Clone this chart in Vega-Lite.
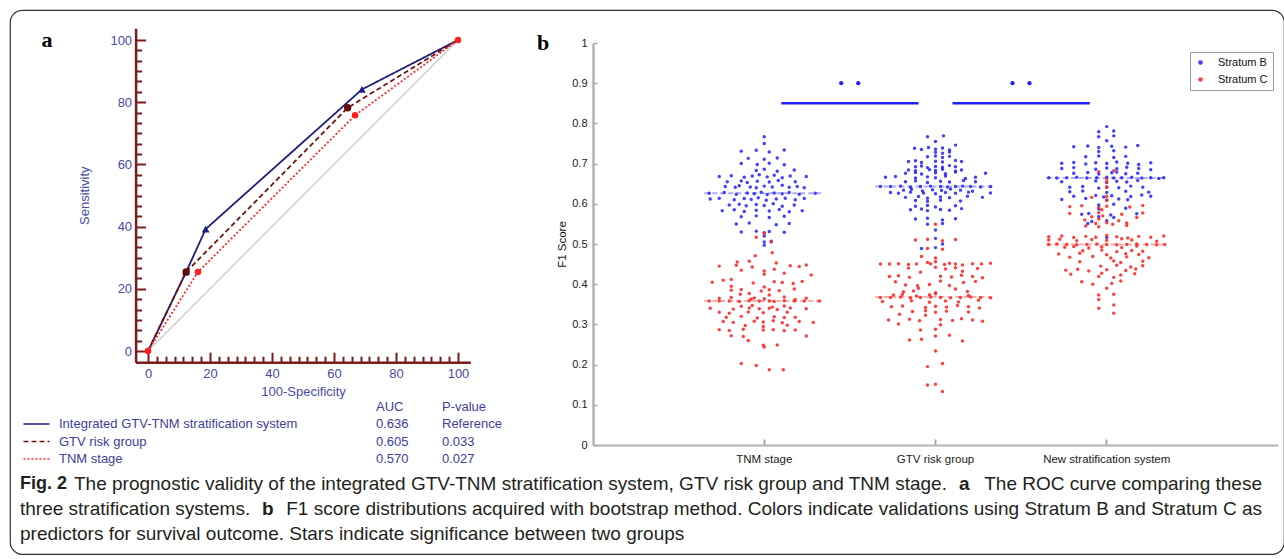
{
"$schema":"https://vega.github.io/schema/vega-lite/v6.json",
"width":1274,"height":544,
"autosize":{"type":"none"},
"padding":{"left":10,"top":10,"right":0,"bottom":5},
"background":"white",
"config":{"view":{"stroke":"#333333","strokeWidth":1.2,"cornerRadius":12},"axis":{"grid":false,"labelFont":"Liberation Sans","titleFont":"Liberation Sans"},"legend":{"labelFont":"Liberation Sans","titleFont":"Liberation Sans"},"text":{"font":"Liberation Sans"}},
"datasets":{
"roc":[
{"series":"Integrated GTV-TNM stratification system","fpr":0,"tpr":0},{"series":"Integrated GTV-TNM stratification system","fpr":12.3,"tpr":25.4},{"series":"Integrated GTV-TNM stratification system","fpr":18.6,"tpr":39.2},{"series":"Integrated GTV-TNM stratification system","fpr":69,"tpr":84.1},{"series":"Integrated GTV-TNM stratification system","fpr":100,"tpr":100},
{"series":"GTV risk group","fpr":0,"tpr":0},{"series":"GTV risk group","fpr":12.3,"tpr":25.4},{"series":"GTV risk group","fpr":64.4,"tpr":78.2},{"series":"GTV risk group","fpr":100,"tpr":100},
{"series":"TNM stage","fpr":0,"tpr":0},{"series":"TNM stage","fpr":16.1,"tpr":25.4},{"series":"TNM stage","fpr":66.8,"tpr":75.8},{"series":"TNM stage","fpr":100,"tpr":100}],
"diag":[{"fpr":0,"tpr":0},{"fpr":100,"tpr":100}],
"auc":[{"series":"Integrated GTV-TNM stratification system","auc":"0.636","p":"Reference"},{"series":"GTV risk group","auc":"0.605","p":"0.033"},{"series":"TNM stage","auc":"0.570","p":"0.027"}],
"notes":[{"part":"pa","text":"a"},{"part":"pb","text":"b"},{"part":"fig","text":"Fig. 2"},{"part":"p1","text":"The prognostic validity of the integrated GTV-TNM stratification system, GTV risk group and TNM stage."},{"part":"ca","text":"a"},{"part":"p2","text":"The ROC curve comparing these"},{"part":"p3","text":"three stratification systems."},{"part":"cb","text":"b"},{"part":"p4","text":"F1 score distributions acquired with bootstrap method. Colors indicate validations using Stratum B and Stratum C as"},{"part":"p5","text":"predictors for survival outcome. Stars indicate significance between two groups"}],
"med":[{"g":"TNM","s":"Stratum B","m":0.626},{"g":"TNM","s":"Stratum C","m":0.358},{"g":"GTV","s":"Stratum B","m":0.643},{"g":"GTV","s":"Stratum C","m":0.368},{"g":"New","s":"Stratum B","m":0.664},{"g":"New","s":"Stratum C","m":0.499}],
"sig":[{"from":"TNM","to":"GTV"},{"from":"GTV","to":"New"}],
"f1B":[{"g":"TNM","v":0.767,"j":0},{"g":"TNM","v":0.750,"j":0},
{"g":"TNM","v":0.731,"j":-23},{"g":"TNM","v":0.733,"j":-8},{"g":"TNM","v":0.729,"j":5},{"g":"TNM","v":0.734,"j":20},
{"g":"TNM","v":0.713,"j":-16},{"g":"TNM","v":0.711,"j":0},{"g":"TNM","v":0.714,"j":13},
{"g":"TNM","v":0.700,"j":-23},{"g":"TNM","v":0.698,"j":-7},{"g":"TNM","v":0.701,"j":5},{"g":"TNM","v":0.697,"j":20},
{"g":"TNM","v":0.683,"j":-8},{"g":"TNM","v":0.686,"j":0},{"g":"TNM","v":0.681,"j":13},{"g":"TNM","v":0.684,"j":30},
{"g":"TNM","v":0.668,"j":-45},{"g":"TNM","v":0.670,"j":-33},{"g":"TNM","v":0.666,"j":-20},{"g":"TNM","v":0.669,"j":-12},{"g":"TNM","v":0.672,"j":-5},{"g":"TNM","v":0.667,"j":3},{"g":"TNM","v":0.671,"j":10},{"g":"TNM","v":0.665,"j":18},{"g":"TNM","v":0.669,"j":26},{"g":"TNM","v":0.668,"j":42},
{"g":"TNM","v":0.655,"j":-37},{"g":"TNM","v":0.657,"j":-23},{"g":"TNM","v":0.653,"j":-17},{"g":"TNM","v":0.656,"j":-7},{"g":"TNM","v":0.654,"j":5},{"g":"TNM","v":0.658,"j":14},{"g":"TNM","v":0.655,"j":31},
{"g":"TNM","v":0.643,"j":-39},{"g":"TNM","v":0.641,"j":-29},{"g":"TNM","v":0.645,"j":-25},{"g":"TNM","v":0.642,"j":-14},{"g":"TNM","v":0.640,"j":-8},{"g":"TNM","v":0.644,"j":0},{"g":"TNM","v":0.642,"j":8},{"g":"TNM","v":0.646,"j":18},{"g":"TNM","v":0.641,"j":25},{"g":"TNM","v":0.643,"j":33},{"g":"TNM","v":0.640,"j":40},
{"g":"TNM","v":0.626,"j":-55},{"g":"TNM","v":0.628,"j":-40},{"g":"TNM","v":0.624,"j":-28},{"g":"TNM","v":0.627,"j":-17},{"g":"TNM","v":0.625,"j":-10},{"g":"TNM","v":0.629,"j":-3},{"g":"TNM","v":0.623,"j":3},{"g":"TNM","v":0.627,"j":10},{"g":"TNM","v":0.625,"j":18},{"g":"TNM","v":0.628,"j":25},{"g":"TNM","v":0.624,"j":35},{"g":"TNM","v":0.626,"j":51},
{"g":"TNM","v":0.612,"j":-54},{"g":"TNM","v":0.614,"j":-45},{"g":"TNM","v":0.610,"j":-30},{"g":"TNM","v":0.613,"j":-20},{"g":"TNM","v":0.611,"j":-13},{"g":"TNM","v":0.615,"j":-6},{"g":"TNM","v":0.609,"j":2},{"g":"TNM","v":0.612,"j":12},{"g":"TNM","v":0.614,"j":21},{"g":"TNM","v":0.610,"j":31},{"g":"TNM","v":0.613,"j":40},
{"g":"TNM","v":0.597,"j":-35},{"g":"TNM","v":0.599,"j":-25},{"g":"TNM","v":0.595,"j":-18},{"g":"TNM","v":0.598,"j":-8},{"g":"TNM","v":0.596,"j":0},{"g":"TNM","v":0.600,"j":9},{"g":"TNM","v":0.594,"j":18},{"g":"TNM","v":0.597,"j":30},
{"g":"TNM","v":0.583,"j":-42},{"g":"TNM","v":0.585,"j":-30},{"g":"TNM","v":0.581,"j":-20},{"g":"TNM","v":0.584,"j":-8},{"g":"TNM","v":0.582,"j":5},{"g":"TNM","v":0.586,"j":15},{"g":"TNM","v":0.580,"j":25},{"g":"TNM","v":0.583,"j":38},
{"g":"TNM","v":0.568,"j":-23},{"g":"TNM","v":0.570,"j":-8},{"g":"TNM","v":0.566,"j":5},{"g":"TNM","v":0.569,"j":20},
{"g":"TNM","v":0.550,"j":-28},{"g":"TNM","v":0.552,"j":-15},{"g":"TNM","v":0.548,"j":12},{"g":"TNM","v":0.551,"j":25},
{"g":"TNM","v":0.530,"j":-23},{"g":"TNM","v":0.532,"j":-8},{"g":"TNM","v":0.528,"j":0},{"g":"TNM","v":0.531,"j":5},{"g":"TNM","v":0.529,"j":20},
{"g":"TNM","v":0.520,"j":0},{"g":"TNM","v":0.505,"j":0},{"g":"TNM","v":0.507,"j":7},{"g":"TNM","v":0.497,"j":0},
{"g":"GTV","v":0.767,"j":-8},{"g":"GTV","v":0.769,"j":8},{"g":"GTV","v":0.755,"j":0},{"g":"GTV","v":0.746,"j":20},
{"g":"GTV","v":0.738,"j":-21},{"g":"GTV","v":0.735,"j":-14},{"g":"GTV","v":0.740,"j":-7},{"g":"GTV","v":0.736,"j":0},{"g":"GTV","v":0.739,"j":7},{"g":"GTV","v":0.734,"j":14},
{"g":"GTV","v":0.728,"j":0},{"g":"GTV","v":0.726,"j":7},{"g":"GTV","v":0.729,"j":14},
{"g":"GTV","v":0.717,"j":-8},{"g":"GTV","v":0.719,"j":0},{"g":"GTV","v":0.715,"j":7},{"g":"GTV","v":0.718,"j":14},
{"g":"GTV","v":0.705,"j":-27},{"g":"GTV","v":0.707,"j":-20},{"g":"GTV","v":0.703,"j":-14},{"g":"GTV","v":0.706,"j":0},{"g":"GTV","v":0.704,"j":7},{"g":"GTV","v":0.708,"j":20},{"g":"GTV","v":0.705,"j":26},
{"g":"GTV","v":0.692,"j":-20},{"g":"GTV","v":0.694,"j":-14},{"g":"GTV","v":0.690,"j":-8},{"g":"GTV","v":0.693,"j":0},{"g":"GTV","v":0.691,"j":7},{"g":"GTV","v":0.695,"j":14},{"g":"GTV","v":0.692,"j":20},
{"g":"GTV","v":0.684,"j":-27},{"g":"GTV","v":0.682,"j":-20},{"g":"GTV","v":0.685,"j":-6},{"g":"GTV","v":0.683,"j":0},{"g":"GTV","v":0.686,"j":7},{"g":"GTV","v":0.681,"j":20},{"g":"GTV","v":0.684,"j":26},
{"g":"GTV","v":0.676,"j":-30},{"g":"GTV","v":0.678,"j":-20},{"g":"GTV","v":0.674,"j":-14},{"g":"GTV","v":0.677,"j":0},{"g":"GTV","v":0.675,"j":10},{"g":"GTV","v":0.679,"j":20},{"g":"GTV","v":0.676,"j":50},
{"g":"GTV","v":0.666,"j":-50},{"g":"GTV","v":0.668,"j":-40},{"g":"GTV","v":0.664,"j":-20},{"g":"GTV","v":0.667,"j":-8},{"g":"GTV","v":0.665,"j":0},{"g":"GTV","v":0.669,"j":10},{"g":"GTV","v":0.663,"j":30},{"g":"GTV","v":0.666,"j":40},
{"g":"GTV","v":0.655,"j":-30},{"g":"GTV","v":0.657,"j":-20},{"g":"GTV","v":0.653,"j":-8},{"g":"GTV","v":0.656,"j":5},{"g":"GTV","v":0.654,"j":14},{"g":"GTV","v":0.658,"j":28},{"g":"GTV","v":0.655,"j":40},
{"g":"GTV","v":0.643,"j":-55},{"g":"GTV","v":0.643,"j":-45},{"g":"GTV","v":0.644,"j":-35},{"g":"GTV","v":0.642,"j":-25},{"g":"GTV","v":0.643,"j":-15},{"g":"GTV","v":0.644,"j":-5},{"g":"GTV","v":0.643,"j":5},{"g":"GTV","v":0.642,"j":12},{"g":"GTV","v":0.643,"j":20},{"g":"GTV","v":0.644,"j":27},{"g":"GTV","v":0.643,"j":35},{"g":"GTV","v":0.642,"j":45},{"g":"GTV","v":0.643,"j":55},
{"g":"GTV","v":0.634,"j":-32},{"g":"GTV","v":0.636,"j":-24},{"g":"GTV","v":0.632,"j":-13},{"g":"GTV","v":0.635,"j":-3},{"g":"GTV","v":0.633,"j":6},{"g":"GTV","v":0.637,"j":15},{"g":"GTV","v":0.634,"j":25},{"g":"GTV","v":0.631,"j":37},
{"g":"GTV","v":0.628,"j":-45},{"g":"GTV","v":0.626,"j":-37},{"g":"GTV","v":0.629,"j":-25},{"g":"GTV","v":0.627,"j":-12},{"g":"GTV","v":0.625,"j":0},{"g":"GTV","v":0.628,"j":10},{"g":"GTV","v":0.626,"j":20},{"g":"GTV","v":0.629,"j":33},{"g":"GTV","v":0.627,"j":55},
{"g":"GTV","v":0.616,"j":-30},{"g":"GTV","v":0.618,"j":-17},{"g":"GTV","v":0.614,"j":-8},{"g":"GTV","v":0.617,"j":5},{"g":"GTV","v":0.615,"j":14},{"g":"GTV","v":0.619,"j":32},{"g":"GTV","v":0.616,"j":47},
{"g":"GTV","v":0.608,"j":-20},{"g":"GTV","v":0.606,"j":-8},{"g":"GTV","v":0.609,"j":5},{"g":"GTV","v":0.607,"j":25},
{"g":"GTV","v":0.594,"j":-20},{"g":"GTV","v":0.596,"j":-8},{"g":"GTV","v":0.592,"j":0},{"g":"GTV","v":0.595,"j":20},
{"g":"GTV","v":0.585,"j":-25},{"g":"GTV","v":0.587,"j":-14},{"g":"GTV","v":0.583,"j":-8},{"g":"GTV","v":0.586,"j":5},{"g":"GTV","v":0.584,"j":14},{"g":"GTV","v":0.588,"j":26},
{"g":"GTV","v":0.562,"j":-20},{"g":"GTV","v":0.564,"j":-8},{"g":"GTV","v":0.560,"j":7},{"g":"GTV","v":0.563,"j":20},
{"g":"GTV","v":0.549,"j":-8},{"g":"GTV","v":0.551,"j":7},
{"g":"GTV","v":0.535,"j":0},{"g":"GTV","v":0.514,"j":0},{"g":"GTV","v":0.500,"j":7},{"g":"GTV","v":0.489,"j":-14},{"g":"GTV","v":0.491,"j":0},
{"g":"New","v":0.792,"j":0},{"g":"New","v":0.779,"j":-8},{"g":"New","v":0.781,"j":7},{"g":"New","v":0.767,"j":-8},{"g":"New","v":0.769,"j":7},{"g":"New","v":0.757,"j":0},
{"g":"New","v":0.742,"j":-33},{"g":"New","v":0.744,"j":-19},{"g":"New","v":0.740,"j":-8},{"g":"New","v":0.743,"j":5},{"g":"New","v":0.741,"j":19},{"g":"New","v":0.745,"j":31},
{"g":"New","v":0.730,"j":-8},{"g":"New","v":0.732,"j":7},
{"g":"New","v":0.717,"j":-21},{"g":"New","v":0.719,"j":-8},{"g":"New","v":0.715,"j":7},{"g":"New","v":0.718,"j":19},
{"g":"New","v":0.701,"j":-45},{"g":"New","v":0.703,"j":-33},{"g":"New","v":0.699,"j":-21},{"g":"New","v":0.702,"j":-11},{"g":"New","v":0.700,"j":0},{"g":"New","v":0.704,"j":10},{"g":"New","v":0.701,"j":21},{"g":"New","v":0.698,"j":32},{"g":"New","v":0.702,"j":44},
{"g":"New","v":0.688,"j":-45},{"g":"New","v":0.690,"j":-33},{"g":"New","v":0.686,"j":-11},{"g":"New","v":0.689,"j":0},{"g":"New","v":0.687,"j":10},{"g":"New","v":0.691,"j":20},{"g":"New","v":0.688,"j":32},{"g":"New","v":0.685,"j":44},
{"g":"New","v":0.676,"j":-33},{"g":"New","v":0.678,"j":-19},{"g":"New","v":0.674,"j":-8},{"g":"New","v":0.677,"j":5},{"g":"New","v":0.679,"j":10},{"g":"New","v":0.675,"j":19},{"g":"New","v":0.676,"j":31},
{"g":"New","v":0.665,"j":-58},{"g":"New","v":0.664,"j":-50},{"g":"New","v":0.665,"j":-40},{"g":"New","v":0.666,"j":-30},{"g":"New","v":0.664,"j":-20},{"g":"New","v":0.665,"j":-10},{"g":"New","v":0.666,"j":0},{"g":"New","v":0.664,"j":7},{"g":"New","v":0.665,"j":15},{"g":"New","v":0.666,"j":25},{"g":"New","v":0.664,"j":35},{"g":"New","v":0.665,"j":44},{"g":"New","v":0.663,"j":52},{"g":"New","v":0.665,"j":57},
{"g":"New","v":0.655,"j":-45},{"g":"New","v":0.657,"j":-11},{"g":"New","v":0.653,"j":0},{"g":"New","v":0.656,"j":10},{"g":"New","v":0.654,"j":20},{"g":"New","v":0.658,"j":31},
{"g":"New","v":0.641,"j":-37},{"g":"New","v":0.643,"j":-24},{"g":"New","v":0.639,"j":-8},{"g":"New","v":0.642,"j":0},{"g":"New","v":0.640,"j":12},{"g":"New","v":0.644,"j":24},{"g":"New","v":0.641,"j":36},
{"g":"New","v":0.630,"j":-37},{"g":"New","v":0.632,"j":-24},{"g":"New","v":0.628,"j":0},{"g":"New","v":0.631,"j":19},{"g":"New","v":0.629,"j":42},
{"g":"New","v":0.619,"j":-33},{"g":"New","v":0.621,"j":-11},{"g":"New","v":0.617,"j":-3},{"g":"New","v":0.620,"j":5},{"g":"New","v":0.618,"j":24},{"g":"New","v":0.622,"j":35},{"g":"New","v":0.619,"j":44},
{"g":"New","v":0.611,"j":-45},{"g":"New","v":0.613,"j":-21},{"g":"New","v":0.609,"j":0},{"g":"New","v":0.612,"j":12},{"g":"New","v":0.610,"j":21},
{"g":"New","v":0.597,"j":-8},{"g":"New","v":0.599,"j":7},{"g":"New","v":0.587,"j":-8},{"g":"New","v":0.589,"j":19},
{"g":"New","v":0.574,"j":-25},{"g":"New","v":0.576,"j":-18},{"g":"New","v":0.572,"j":4},{"g":"New","v":0.575,"j":30},
{"g":"New","v":0.568,"j":-8},{"g":"New","v":0.566,"j":7},{"g":"New","v":0.556,"j":-15},{"g":"New","v":0.558,"j":0},{"g":"New","v":0.551,"j":-19},{"g":"New","v":0.516,"j":0}],
"f1C":[{"g":"TNM","v":0.527,"j":0},{"g":"TNM","v":0.517,"j":-8},{"g":"TNM","v":0.505,"j":7},{"g":"TNM","v":0.478,"j":8},{"g":"TNM","v":0.471,"j":-9},
{"g":"TNM","v":0.455,"j":-27},{"g":"TNM","v":0.457,"j":-15},{"g":"TNM","v":0.453,"j":12},
{"g":"TNM","v":0.445,"j":-45},{"g":"TNM","v":0.447,"j":-28},{"g":"TNM","v":0.443,"j":-12},{"g":"TNM","v":0.446,"j":26},{"g":"TNM","v":0.444,"j":35},{"g":"TNM","v":0.448,"j":42},
{"g":"TNM","v":0.435,"j":-23},{"g":"TNM","v":0.433,"j":0},{"g":"TNM","v":0.437,"j":10},
{"g":"TNM","v":0.425,"j":0},{"g":"TNM","v":0.427,"j":20},{"g":"TNM","v":0.423,"j":47},
{"g":"TNM","v":0.410,"j":-41},{"g":"TNM","v":0.412,"j":-33},
{"g":"TNM","v":0.405,"j":-52},{"g":"TNM","v":0.403,"j":-11},{"g":"TNM","v":0.406,"j":10},{"g":"TNM","v":0.404,"j":18},{"g":"TNM","v":0.402,"j":29},{"g":"TNM","v":0.407,"j":38},
{"g":"TNM","v":0.395,"j":-33},{"g":"TNM","v":0.393,"j":0},
{"g":"TNM","v":0.385,"j":-33},{"g":"TNM","v":0.387,"j":-23},{"g":"TNM","v":0.383,"j":-3},{"g":"TNM","v":0.386,"j":5},{"g":"TNM","v":0.384,"j":15},{"g":"TNM","v":0.388,"j":30},
{"g":"TNM","v":0.375,"j":-24},{"g":"TNM","v":0.377,"j":-15},{"g":"TNM","v":0.373,"j":5},
{"g":"TNM","v":0.365,"j":-45},{"g":"TNM","v":0.367,"j":-33},{"g":"TNM","v":0.363,"j":-13},{"g":"TNM","v":0.366,"j":-10},{"g":"TNM","v":0.364,"j":0},{"g":"TNM","v":0.368,"j":20},{"g":"TNM","v":0.362,"j":31},{"g":"TNM","v":0.365,"j":42},
{"g":"TNM","v":0.358,"j":-55},{"g":"TNM","v":0.358,"j":-45},{"g":"TNM","v":0.358,"j":-35},{"g":"TNM","v":0.357,"j":-25},{"g":"TNM","v":0.359,"j":-15},{"g":"TNM","v":0.358,"j":-5},{"g":"TNM","v":0.358,"j":5},{"g":"TNM","v":0.357,"j":10},{"g":"TNM","v":0.359,"j":20},{"g":"TNM","v":0.358,"j":30},{"g":"TNM","v":0.358,"j":40},{"g":"TNM","v":0.358,"j":55},
{"g":"TNM","v":0.345,"j":-23},{"g":"TNM","v":0.347,"j":-12},{"g":"TNM","v":0.343,"j":8},{"g":"TNM","v":0.346,"j":20},
{"g":"TNM","v":0.340,"j":-54},{"g":"TNM","v":0.338,"j":-31},{"g":"TNM","v":0.341,"j":-15},{"g":"TNM","v":0.339,"j":-5},{"g":"TNM","v":0.340,"j":5},{"g":"TNM","v":0.337,"j":13},{"g":"TNM","v":0.341,"j":26},{"g":"TNM","v":0.339,"j":42},
{"g":"TNM","v":0.330,"j":-45},{"g":"TNM","v":0.328,"j":-35},{"g":"TNM","v":0.331,"j":-16},{"g":"TNM","v":0.329,"j":-1},{"g":"TNM","v":0.330,"j":23},
{"g":"TNM","v":0.318,"j":-38},{"g":"TNM","v":0.320,"j":-23},{"g":"TNM","v":0.316,"j":-7},{"g":"TNM","v":0.319,"j":10},{"g":"TNM","v":0.317,"j":20},{"g":"TNM","v":0.318,"j":31},
{"g":"TNM","v":0.307,"j":-41},{"g":"TNM","v":0.305,"j":-31},{"g":"TNM","v":0.308,"j":-10},{"g":"TNM","v":0.306,"j":-1},{"g":"TNM","v":0.309,"j":9},{"g":"TNM","v":0.304,"j":18},{"g":"TNM","v":0.307,"j":35},{"g":"TNM","v":0.305,"j":49},
{"g":"TNM","v":0.297,"j":-19},{"g":"TNM","v":0.295,"j":-1},{"g":"TNM","v":0.298,"j":23},
{"g":"TNM","v":0.287,"j":-45},{"g":"TNM","v":0.285,"j":-35},{"g":"TNM","v":0.288,"j":-21},{"g":"TNM","v":0.286,"j":-1},{"g":"TNM","v":0.287,"j":9},{"g":"TNM","v":0.284,"j":20},{"g":"TNM","v":0.286,"j":31},
{"g":"TNM","v":0.272,"j":-33},{"g":"TNM","v":0.270,"j":-21},{"g":"TNM","v":0.271,"j":42},
{"g":"TNM","v":0.260,"j":-16},
{"g":"TNM","v":0.248,"j":-1},{"g":"TNM","v":0.244,"j":0},{"g":"TNM","v":0.249,"j":13},
{"g":"TNM","v":0.203,"j":-23},{"g":"TNM","v":0.198,"j":-8},{"g":"TNM","v":0.187,"j":5},{"g":"TNM","v":0.187,"j":19},
{"g":"GTV","v":0.549,"j":0},
{"g":"GTV","v":0.510,"j":-20},{"g":"GTV","v":0.512,"j":-8},{"g":"GTV","v":0.508,"j":7},{"g":"GTV","v":0.511,"j":20},
{"g":"GTV","v":0.489,"j":-8},{"g":"GTV","v":0.487,"j":7},
{"g":"GTV","v":0.469,"j":-14},{"g":"GTV","v":0.465,"j":0},
{"g":"GTV","v":0.454,"j":-8},{"g":"GTV","v":0.456,"j":0},{"g":"GTV","v":0.452,"j":14},
{"g":"GTV","v":0.450,"j":-55},{"g":"GTV","v":0.450,"j":-46},{"g":"GTV","v":0.451,"j":-37},{"g":"GTV","v":0.449,"j":-27},{"g":"GTV","v":0.450,"j":-19},{"g":"GTV","v":0.451,"j":-5},{"g":"GTV","v":0.449,"j":9},{"g":"GTV","v":0.450,"j":20},{"g":"GTV","v":0.448,"j":27},{"g":"GTV","v":0.451,"j":37},{"g":"GTV","v":0.450,"j":46},{"g":"GTV","v":0.452,"j":55},
{"g":"GTV","v":0.440,"j":-27},{"g":"GTV","v":0.442,"j":0},{"g":"GTV","v":0.438,"j":10},{"g":"GTV","v":0.441,"j":20},{"g":"GTV","v":0.439,"j":42},
{"g":"GTV","v":0.430,"j":-15},{"g":"GTV","v":0.432,"j":27},
{"g":"GTV","v":0.419,"j":-46},{"g":"GTV","v":0.421,"j":-37},{"g":"GTV","v":0.417,"j":-26},{"g":"GTV","v":0.420,"j":5},{"g":"GTV","v":0.418,"j":16},{"g":"GTV","v":0.422,"j":26},{"g":"GTV","v":0.419,"j":37},{"g":"GTV","v":0.416,"j":47},
{"g":"GTV","v":0.406,"j":-40},{"g":"GTV","v":0.408,"j":5},{"g":"GTV","v":0.404,"j":28},{"g":"GTV","v":0.407,"j":40},
{"g":"GTV","v":0.398,"j":-30},{"g":"GTV","v":0.396,"j":-18},{"g":"GTV","v":0.399,"j":-6},{"g":"GTV","v":0.397,"j":14},
{"g":"GTV","v":0.390,"j":-17},{"g":"GTV","v":0.388,"j":20},
{"g":"GTV","v":0.381,"j":-32},{"g":"GTV","v":0.383,"j":-22},{"g":"GTV","v":0.379,"j":0},{"g":"GTV","v":0.382,"j":32},
{"g":"GTV","v":0.373,"j":-42},{"g":"GTV","v":0.375,"j":-33},{"g":"GTV","v":0.371,"j":-19},{"g":"GTV","v":0.374,"j":-6},{"g":"GTV","v":0.376,"j":0},{"g":"GTV","v":0.372,"j":33},
{"g":"GTV","v":0.367,"j":-55},{"g":"GTV","v":0.367,"j":-45},{"g":"GTV","v":0.368,"j":-35},{"g":"GTV","v":0.366,"j":-25},{"g":"GTV","v":0.367,"j":-15},{"g":"GTV","v":0.368,"j":-5},{"g":"GTV","v":0.367,"j":5},{"g":"GTV","v":0.366,"j":15},{"g":"GTV","v":0.367,"j":25},{"g":"GTV","v":0.368,"j":35},{"g":"GTV","v":0.367,"j":45},{"g":"GTV","v":0.366,"j":55},
{"g":"GTV","v":0.357,"j":-53},{"g":"GTV","v":0.359,"j":-24},{"g":"GTV","v":0.355,"j":-6},{"g":"GTV","v":0.358,"j":10},{"g":"GTV","v":0.356,"j":23},{"g":"GTV","v":0.360,"j":43},
{"g":"GTV","v":0.344,"j":-44},{"g":"GTV","v":0.346,"j":-33},{"g":"GTV","v":0.342,"j":-10},{"g":"GTV","v":0.345,"j":0},{"g":"GTV","v":0.343,"j":11},{"g":"GTV","v":0.347,"j":22},{"g":"GTV","v":0.344,"j":33},{"g":"GTV","v":0.341,"j":44},
{"g":"GTV","v":0.332,"j":-23},{"g":"GTV","v":0.334,"j":-10},{"g":"GTV","v":0.330,"j":0},{"g":"GTV","v":0.333,"j":11},{"g":"GTV","v":0.331,"j":33},
{"g":"GTV","v":0.325,"j":-36},{"g":"GTV","v":0.323,"j":-10},
{"g":"GTV","v":0.311,"j":-47},{"g":"GTV","v":0.313,"j":-26},{"g":"GTV","v":0.309,"j":-16},{"g":"GTV","v":0.312,"j":5},{"g":"GTV","v":0.310,"j":17},{"g":"GTV","v":0.314,"j":26},{"g":"GTV","v":0.311,"j":37},{"g":"GTV","v":0.308,"j":47},
{"g":"GTV","v":0.301,"j":-37},{"g":"GTV","v":0.299,"j":5},
{"g":"GTV","v":0.286,"j":-15},{"g":"GTV","v":0.288,"j":0},
{"g":"GTV","v":0.271,"j":0},{"g":"GTV","v":0.273,"j":14},
{"g":"GTV","v":0.261,"j":-26},{"g":"GTV","v":0.263,"j":-14},{"g":"GTV","v":0.259,"j":27},
{"g":"GTV","v":0.234,"j":0},{"g":"GTV","v":0.203,"j":7},{"g":"GTV","v":0.195,"j":-8},{"g":"GTV","v":0.149,"j":-8},{"g":"GTV","v":0.151,"j":0},{"g":"GTV","v":0.133,"j":7},
{"g":"New","v":0.680,"j":-8},{"g":"New","v":0.682,"j":7},{"g":"New","v":0.663,"j":0},{"g":"New","v":0.655,"j":0},{"g":"New","v":0.641,"j":0},
{"g":"New","v":0.616,"j":-15},{"g":"New","v":0.618,"j":0},{"g":"New","v":0.609,"j":0},
{"g":"New","v":0.593,"j":-37},{"g":"New","v":0.595,"j":-25},{"g":"New","v":0.591,"j":-8},{"g":"New","v":0.594,"j":0},{"g":"New","v":0.592,"j":23},{"g":"New","v":0.596,"j":36},
{"g":"New","v":0.585,"j":-5},
{"g":"New","v":0.576,"j":-37},{"g":"New","v":0.578,"j":-8},{"g":"New","v":0.574,"j":15},{"g":"New","v":0.577,"j":36},
{"g":"New","v":0.568,"j":-15},{"g":"New","v":0.570,"j":-4},{"g":"New","v":0.566,"j":30},
{"g":"New","v":0.560,"j":-22},{"g":"New","v":0.562,"j":-8},{"g":"New","v":0.558,"j":12},
{"g":"New","v":0.551,"j":-11},{"g":"New","v":0.553,"j":0},{"g":"New","v":0.549,"j":6},{"g":"New","v":0.552,"j":20},
{"g":"New","v":0.545,"j":-21},{"g":"New","v":0.543,"j":-8},{"g":"New","v":0.546,"j":20},
{"g":"New","v":0.518,"j":-58},{"g":"New","v":0.520,"j":-45},{"g":"New","v":0.516,"j":-33},{"g":"New","v":0.519,"j":-21},{"g":"New","v":0.517,"j":-11},{"g":"New","v":0.521,"j":0},{"g":"New","v":0.518,"j":10},{"g":"New","v":0.515,"j":21},{"g":"New","v":0.519,"j":32},{"g":"New","v":0.517,"j":44},{"g":"New","v":0.520,"j":57},
{"g":"New","v":0.510,"j":-58},{"g":"New","v":0.512,"j":-47},{"g":"New","v":0.508,"j":-30},{"g":"New","v":0.511,"j":-15},{"g":"New","v":0.509,"j":0},{"g":"New","v":0.513,"j":15},{"g":"New","v":0.510,"j":25},{"g":"New","v":0.507,"j":50},
{"g":"New","v":0.499,"j":-58},{"g":"New","v":0.500,"j":-50},{"g":"New","v":0.499,"j":-40},{"g":"New","v":0.498,"j":-30},{"g":"New","v":0.499,"j":-20},{"g":"New","v":0.500,"j":-10},{"g":"New","v":0.499,"j":0},{"g":"New","v":0.498,"j":10},{"g":"New","v":0.499,"j":20},{"g":"New","v":0.500,"j":30},{"g":"New","v":0.499,"j":40},{"g":"New","v":0.498,"j":50},{"g":"New","v":0.499,"j":58},
{"g":"New","v":0.492,"j":-42},{"g":"New","v":0.494,"j":-33},{"g":"New","v":0.490,"j":-18},{"g":"New","v":0.493,"j":-5},{"g":"New","v":0.491,"j":15},{"g":"New","v":0.495,"j":30},
{"g":"New","v":0.483,"j":-24},{"g":"New","v":0.485,"j":-5},{"g":"New","v":0.481,"j":10},{"g":"New","v":0.484,"j":25},{"g":"New","v":0.482,"j":36},
{"g":"New","v":0.475,"j":-48},{"g":"New","v":0.477,"j":-27},{"g":"New","v":0.473,"j":0},{"g":"New","v":0.476,"j":19},{"g":"New","v":0.474,"j":32},
{"g":"New","v":0.467,"j":-37},{"g":"New","v":0.469,"j":-14},{"g":"New","v":0.465,"j":4},{"g":"New","v":0.468,"j":20},{"g":"New","v":0.466,"j":42},
{"g":"New","v":0.456,"j":-27},{"g":"New","v":0.458,"j":7},{"g":"New","v":0.454,"j":14},{"g":"New","v":0.457,"j":36},
{"g":"New","v":0.445,"j":-6},{"g":"New","v":0.447,"j":10},{"g":"New","v":0.443,"j":24},{"g":"New","v":0.446,"j":36},
{"g":"New","v":0.435,"j":-41},{"g":"New","v":0.437,"j":-29},{"g":"New","v":0.433,"j":-18},{"g":"New","v":0.436,"j":0},{"g":"New","v":0.434,"j":19},{"g":"New","v":0.438,"j":29},
{"g":"New","v":0.425,"j":-36},{"g":"New","v":0.427,"j":-5},{"g":"New","v":0.423,"j":14},{"g":"New","v":0.426,"j":28},
{"g":"New","v":0.419,"j":-8},{"g":"New","v":0.417,"j":7},{"g":"New","v":0.406,"j":-25},{"g":"New","v":0.408,"j":14},{"g":"New","v":0.400,"j":-14},{"g":"New","v":0.402,"j":5},
{"g":"New","v":0.390,"j":0},{"g":"New","v":0.373,"j":-8},{"g":"New","v":0.375,"j":7},{"g":"New","v":0.362,"j":-8},{"g":"New","v":0.348,"j":7},{"g":"New","v":0.340,"j":-8},{"g":"New","v":0.328,"j":7}]
},
"resolve":{"scale":{"x":"independent","y":"independent","xOffset":"independent","color":"independent","strokeDash":"independent","shape":"independent","fill":"independent"}},
"layer":[
{"data":{"name":"diag"},
 "mark":{"type":"line","opacity":0},
 "encoding":{
  "x":{"field":"fpr","type":"quantitative","scale":{"domain":[-4,104],"range":[125.6,460.4],"nice":false,"zero":false},
   "axis":{"orient":"bottom","offset":-191.8,"title":null,"labels":false,"domain":false,"values":[2.857,5.714,8.571,11.429,14.286,17.143,22.857,25.714,28.571,31.429,34.286,37.143,42.857,45.714,48.571,51.429,54.286,57.143,62.857,65.714,68.571,71.429,74.286,77.143,82.857,85.714,88.571,91.429,94.286,97.143],"tickSize":-6,"tickColor":"#7a1c1c","tickWidth":2}},
  "y":{"field":"tpr","type":"quantitative","scale":{"domain":[-3.6,103.8],"range":[352.2,18.2],"nice":false,"zero":false},
   "axis":{"orient":"left","offset":-125.6,"title":null,"labels":false,"domain":false,"values":[3.333,6.667,10,13.333,16.667,23.333,26.667,30,33.333,36.667,43.333,46.667,50,53.333,56.667,63.333,66.667,70,73.333,76.667,83.333,86.667,90,93.333,96.667],"tickSize":-6,"tickColor":"#7a1c1c","tickWidth":2}}}},
{
"layer":[
{"data":{"name":"diag"},
 "mark":{"type":"line","color":"#c8c8c8","strokeWidth":1.2},
 "encoding":{
  "x":{"field":"fpr","type":"quantitative","scale":{"domain":[-4,104],"range":[125.6,460.4],"nice":false,"zero":false},
   "axis":{"orient":"bottom","offset":-191.8,"title":"100-Specificity","values":[0,20,40,60,80,100],"format":"d","tickSize":-10,"tickColor":"#7a1c1c","tickWidth":2,"domainColor":"#7a1c1c","domainWidth":2.5,"labelColor":"#4a4aa6","labelFontSize":13,"labelPadding":15,"labelFlush":false,"labelOverlap":false,"titleColor":"#4a4aa6","titleFontSize":13,"titleFontWeight":"normal","titlePadding":5}},
  "y":{"field":"tpr","type":"quantitative","scale":{"domain":[-3.6,103.8],"range":[352.2,18.2],"nice":false,"zero":false},
   "axis":{"orient":"left","offset":-125.6,"title":"Sensitivity","values":[0,20,40,60,80,100],"format":"d","tickSize":-10,"tickColor":"#7a1c1c","tickWidth":2,"domainColor":"#7a1c1c","domainWidth":2.5,"labelColor":"#4a4aa6","labelFontSize":13,"labelPadding":14,"labelFlush":false,"labelOverlap":false,"titleColor":"#4a4aa6","titleFontSize":13,"titleFontWeight":"normal","titlePadding":18}}}},
{"data":{"name":"roc"},
 "mark":{"type":"line","strokeWidth":1.8},
 "encoding":{
  "x":{"field":"fpr","type":"quantitative"},
  "y":{"field":"tpr","type":"quantitative"},
  "color":{"field":"series","type":"nominal","scale":{"domain":["Integrated GTV-TNM stratification system","GTV risk group","TNM stage"],"range":["#1e1e7c","#6e1111","#ff2b2b"]},
   "legend":{"orient":"none","legendX":20,"legendY":407.5,"title":null,"symbolType":"M-2.6,0H2.6","symbolSize":100,"symbolStrokeWidth":1.6,"labelFontSize":13,"labelColor":"#40409c","labelOffset":16,"rowPadding":3.5,"padding":0,"labelLimit":400}},
  "strokeDash":{"field":"series","type":"nominal","scale":{"domain":["Integrated GTV-TNM stratification system","GTV risk group","TNM stage"],"range":[[1,0],[5,3],[2,2]]},
   "legend":{"orient":"none","legendX":20,"legendY":407.5,"title":null,"symbolType":"M-2.6,0H2.6","symbolSize":100,"symbolStrokeWidth":1.6,"labelFontSize":13,"labelColor":"#40409c","labelOffset":16,"rowPadding":3.5,"padding":0,"labelLimit":400}}}},
{"data":{"name":"roc"},
 "transform":[{"filter":"datum.series==='Integrated GTV-TNM stratification system' && datum.fpr>0 && datum.fpr<100"}],
 "mark":{"type":"point","shape":"triangle-up","filled":true,"color":"#1e1e7c","size":60,"opacity":1},
 "encoding":{"x":{"field":"fpr","type":"quantitative"},"y":{"field":"tpr","type":"quantitative"}}},
{"data":{"name":"roc"},
 "transform":[{"filter":"datum.series==='GTV risk group' && datum.fpr>0 && datum.fpr<100"}],
 "mark":{"type":"circle","color":"#5e0c0c","size":55,"opacity":1},
 "encoding":{"x":{"field":"fpr","type":"quantitative"},"y":{"field":"tpr","type":"quantitative"}}},
{"data":{"name":"roc"},
 "transform":[{"filter":"datum.series==='TNM stage'"}],
 "mark":{"type":"circle","color":"#ff1f1f","size":42,"opacity":1},
 "encoding":{"x":{"field":"fpr","type":"quantitative"},"y":{"field":"tpr","type":"quantitative"}}},
{"data":{"name":"auc"},
 "mark":{"type":"point","opacity":0},
 "encoding":{
  "shape":{"field":"auc","type":"nominal","scale":{"domain":["0.636","0.605","0.570"]},
   "legend":{"orient":"none","legendX":366,"legendY":390.5,"title":"AUC","titleFontSize":13,"titleFontWeight":"normal","titleColor":"#40409c","titlePadding":4,"symbolSize":0,"symbolOpacity":0,"labelOffset":-13,"labelFontSize":13,"labelColor":"#40409c","rowPadding":3.5,"padding":0}},
  "fill":{"field":"p","type":"nominal","scale":{"domain":["Reference","0.033","0.027"]},
   "legend":{"orient":"none","legendX":432,"legendY":390.5,"title":"P-value","titleFontSize":13,"titleFontWeight":"normal","titleColor":"#40409c","titlePadding":4,"symbolSize":0,"symbolOpacity":0,"labelOffset":-13,"labelFontSize":13,"labelColor":"#40409c","rowPadding":3.5,"padding":0}}}}
]
},
{
"layer":[
{"data":{"name":"f1B"},"mark":{"type":"circle","size":12,"opacity":0.9},
 "encoding":{
  "x":{"field":"g","type":"nominal","scale":{"type":"band","domain":["TNM","GTV","New"],"range":[583,1268],"paddingInner":1,"paddingOuter":1},
   "axis":{"orient":"bottom","offset":-109,"title":null,"labelExpr":"datum.value==='TNM' ? 'TNM stage' : datum.value==='GTV' ? 'GTV risk group' : 'New stratification system'","labelFontSize":11.5,"labelColor":"#1a1a1a","labelAngle":0,"domainColor":"#b4b4b4","domainWidth":2,"tickColor":"#a8a8a8","tickWidth":2,"tickSize":-6,"labelPadding":14}},
  "y":{"field":"v","type":"quantitative","scale":{"domain":[0,1],"range":[435,33],"nice":false,"zero":false},
   "axis":{"orient":"left","offset":-583,"title":"F1 Score","values":[0,0.1,0.2,0.3,0.4,0.5,0.6,0.7,0.8,0.9,1],"format":"~g","labelFontSize":11,"labelColor":"#1a1a1a","domainColor":"#b4b4b4","domainWidth":2.5,"tickColor":"#a8a8a8","tickWidth":1.5,"tickSize":-4,"labelPadding":10,"titleFontSize":11.5,"titleFontWeight":"normal","titleColor":"#111111","titlePadding":4}},
  "xOffset":{"field":"j","type":"quantitative","scale":{"domain":[-60,60],"range":[-60,60]}},
  "color":{"datum":"Stratum B","type":"nominal","scale":{"domain":["Stratum B","Stratum C"],"range":["#2b2bff","#ff2b2b"]},
   "legend":{"orient":"none","legendX":1180,"legendY":42,"title":null,"symbolType":"circle","symbolSize":10,"labelFontSize":11,"labelColor":"#111111","strokeColor":"#999999","fillColor":"white","padding":5,"rowPadding":5,"labelOffset":12,"cornerRadius":0}}}},
{"data":{"name":"f1C"},"mark":{"type":"circle","size":12,"opacity":0.9},
 "encoding":{"x":{"field":"g","type":"nominal"},"y":{"field":"v","type":"quantitative"},"xOffset":{"field":"j","type":"quantitative"},"color":{"datum":"Stratum C","type":"nominal","legend":{"orient":"none","legendX":1180,"legendY":42,"title":null,"symbolType":"circle","symbolSize":10,"labelFontSize":11,"labelColor":"#111111","strokeColor":"#999999","fillColor":"white","padding":5,"rowPadding":5,"labelOffset":12,"cornerRadius":0}}}},
{"data":{"name":"med"},"mark":{"type":"rule","xOffset":-60,"x2Offset":60,"strokeDash":[5,3],"strokeWidth":2,"opacity":0.4},
 "encoding":{"x":{"field":"g","type":"nominal"},"x2":{"field":"g"},"y":{"field":"m","type":"quantitative"},"color":{"field":"s","type":"nominal","legend":{"orient":"none","legendX":1180,"legendY":42,"title":null,"symbolType":"circle","symbolSize":10,"labelFontSize":11,"labelColor":"#111111","strokeColor":"#999999","fillColor":"white","padding":5,"rowPadding":5,"labelOffset":12,"cornerRadius":0}}}},
{"data":{"name":"sig"},"mark":{"type":"rule","color":"#1f1fff","strokeWidth":2.5,"xOffset":17,"x2Offset":-17},
 "encoding":{"x":{"field":"from","type":"nominal"},"x2":{"field":"to"},"y":{"datum":0.85,"type":"quantitative"}}},
{"data":{"name":"sig"},"mark":{"type":"circle","color":"#1f1fff","size":18,"opacity":1,"xOffset":77},
 "encoding":{"x":{"field":"from","type":"nominal"},"y":{"datum":0.9,"type":"quantitative"}}},
{"data":{"name":"sig"},"mark":{"type":"circle","color":"#1f1fff","size":18,"opacity":1,"xOffset":94},
 "encoding":{"x":{"field":"from","type":"nominal"},"y":{"datum":0.9,"type":"quantitative"}}}
]
},
{
"layer":[
{"data":{"name":"notes"},"transform":[{"filter":"datum.part==='pa'"}],
 "mark":{"type":"text","font":"Liberation Serif","fontWeight":"bold","fontSize":22,"align":"center","baseline":"middle","color":"#000000"},
 "encoding":{"x":{"datum":0.029,"type":"quantitative","scale":{"domain":[0,1],"range":[0,1274],"nice":false,"zero":false},"axis":null},"y":{"datum":0.0551,"type":"quantitative","scale":{"domain":[0,1],"range":[0,544],"nice":false,"zero":false},"axis":null},"text":{"field":"text"}}},
{"data":{"name":"notes"},"transform":[{"filter":"datum.part==='pb'"}],
 "mark":{"type":"text","font":"Liberation Serif","fontWeight":"bold","fontSize":22,"align":"center","baseline":"middle","color":"#000000"},
 "encoding":{"x":{"datum":0.4184,"type":"quantitative","axis":null},"y":{"datum":0.0607,"type":"quantitative","axis":null},"text":{"field":"text"}}},
{"data":{"name":"notes"},"transform":[{"filter":"datum.part==='fig'"}],
 "mark":{"type":"text","fontWeight":"bold","fontSize":18,"align":"left","baseline":"middle","color":"#231f20"},
 "encoding":{"x":{"datum":0.00785,"type":"quantitative","axis":null},"y":{"datum":0.8713,"type":"quantitative","axis":null},"text":{"field":"text"}}},
{"data":{"name":"notes"},"transform":[{"filter":"datum.part==='p1'"}],
 "mark":{"type":"text","fontSize":19,"align":"left","baseline":"middle","color":"#231f20"},
 "encoding":{"x":{"datum":0.05024,"type":"quantitative","axis":null},"y":{"datum":0.8713,"type":"quantitative","axis":null},"text":{"field":"text"}}},
{"data":{"name":"notes"},"transform":[{"filter":"datum.part==='ca'"}],
 "mark":{"type":"text","fontWeight":"bold","fontSize":19,"align":"left","baseline":"middle","color":"#231f20"},
 "encoding":{"x":{"datum":0.7449,"type":"quantitative","axis":null},"y":{"datum":0.8713,"type":"quantitative","axis":null},"text":{"field":"text"}}},
{"data":{"name":"notes"},"transform":[{"filter":"datum.part==='p2'"}],
 "mark":{"type":"text","fontSize":19,"align":"right","baseline":"middle","color":"#231f20"},
 "encoding":{"x":{"datum":0.98273,"type":"quantitative","axis":null},"y":{"datum":0.8713,"type":"quantitative","axis":null},"text":{"field":"text"}}},
{"data":{"name":"notes"},"transform":[{"filter":"datum.part==='p3'"}],
 "mark":{"type":"text","fontSize":19,"align":"left","baseline":"middle","color":"#231f20"},
 "encoding":{"x":{"datum":0.00785,"type":"quantitative","axis":null},"y":{"datum":0.9173,"type":"quantitative","axis":null},"text":{"field":"text"}}},
{"data":{"name":"notes"},"transform":[{"filter":"datum.part==='cb'"}],
 "mark":{"type":"text","fontWeight":"bold","fontSize":19,"align":"left","baseline":"middle","color":"#231f20"},
 "encoding":{"x":{"datum":0.1978,"type":"quantitative","axis":null},"y":{"datum":0.9173,"type":"quantitative","axis":null},"text":{"field":"text"}}},
{"data":{"name":"notes"},"transform":[{"filter":"datum.part==='p4'"}],
 "mark":{"type":"text","fontSize":19,"align":"right","baseline":"middle","color":"#231f20"},
 "encoding":{"x":{"datum":0.98273,"type":"quantitative","axis":null},"y":{"datum":0.9173,"type":"quantitative","axis":null},"text":{"field":"text"}}},
{"data":{"name":"notes"},"transform":[{"filter":"datum.part==='p5'"}],
 "mark":{"type":"text","fontSize":19,"align":"left","baseline":"middle","color":"#231f20"},
 "encoding":{"x":{"datum":0.00785,"type":"quantitative","axis":null},"y":{"datum":0.9632,"type":"quantitative","axis":null},"text":{"field":"text"}}}
]
}
]
}
